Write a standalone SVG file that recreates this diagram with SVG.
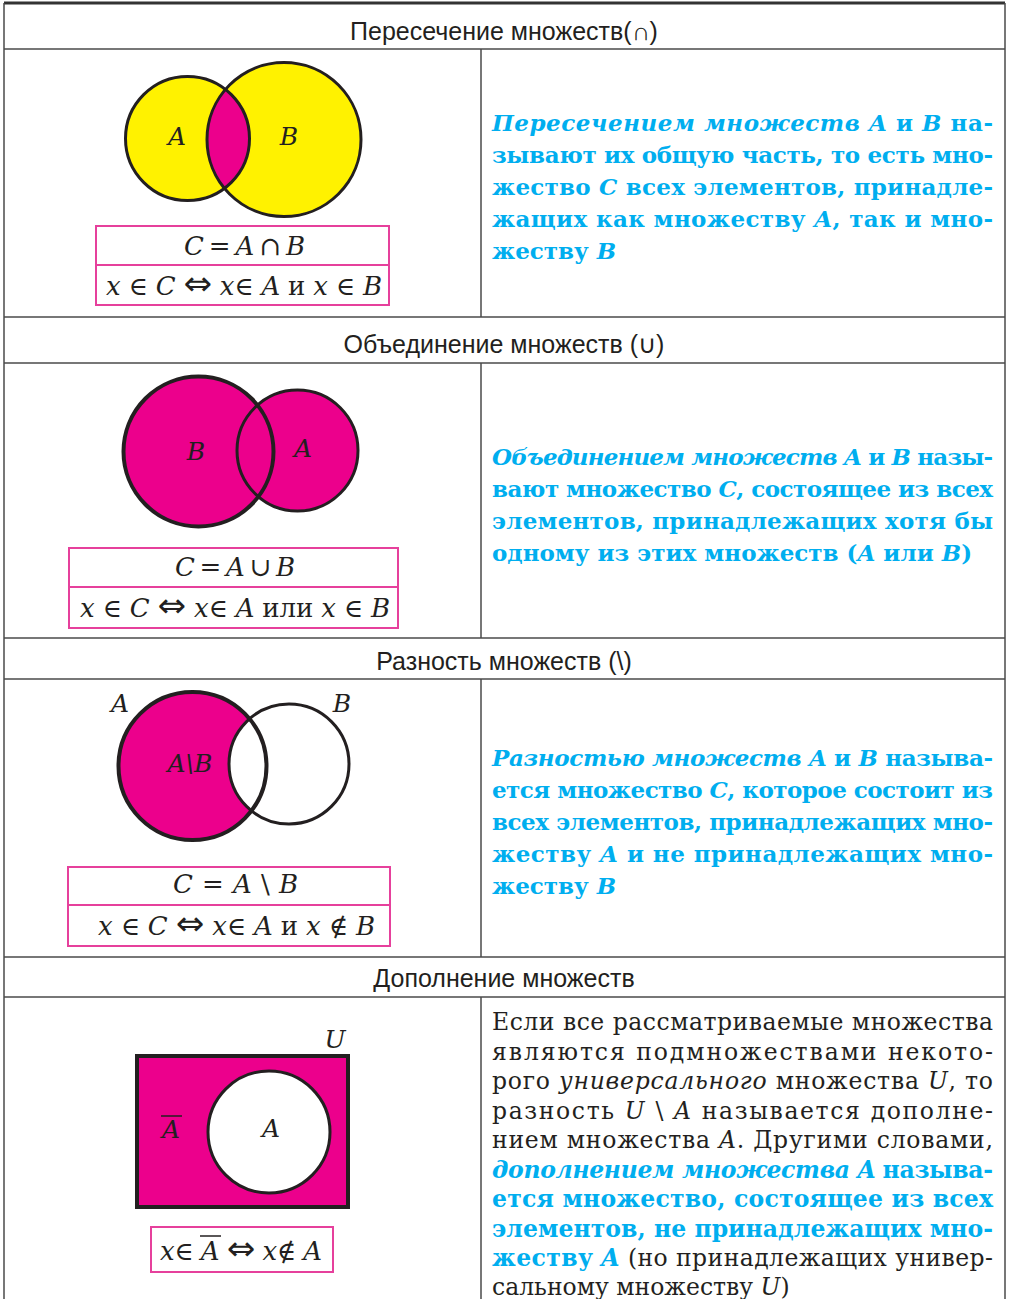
<svg xmlns="http://www.w3.org/2000/svg" width="1010" height="1299" viewBox="0 0 1010 1299">
<style>
.grid{stroke:#4a4a4a;stroke-width:1.5;fill:none}
.hdr{font-family:"Liberation Sans",Arial,sans-serif;font-size:25px;fill:#231f20;text-anchor:middle}
.blue{font-family:"DejaVu Serif","Liberation Serif",serif;font-weight:bold;font-size:23px;fill:#00aeef}
.blk{font-family:"DejaVu Serif","Liberation Serif",serif;font-size:23.5px;fill:#231f20}
.bi{font-style:italic}
.b{font-weight:bold;fill:#00aeef}
.math{font-family:"DejaVu Serif","Liberation Serif",serif;font-size:26px;fill:#231f20}
.arr{font-family:"DejaVu Sans",sans-serif;font-size:34px}
.lbl{font-family:"DejaVu Serif","Liberation Serif",serif;font-size:25px;font-style:italic;fill:#231f20;text-anchor:middle}
.it{font-style:italic}
.box{fill:#fff;stroke:#e6409c;stroke-width:2}
.ol{fill:none;stroke:#231f20;stroke-width:3}
.olt{fill:none;stroke:#231f20;stroke-width:4}
.mag{fill:#ec008c}
.yel{fill:#fff200}
</style>
<defs>
<clipPath id="clipA1"><circle cx="187.5" cy="138.5" r="62"/></clipPath>
</defs>
<rect width="1010" height="1299" fill="#fff"/>

<g id="grid">
<line class="grid" x1="4" y1="3" x2="1005" y2="3" style="stroke-width:3;stroke:#333"/>
<line class="grid" x1="4" y1="49" x2="1005" y2="49"/>
<line class="grid" x1="4" y1="317" x2="1005" y2="317"/>
<line class="grid" x1="4" y1="363" x2="1005" y2="363"/>
<line class="grid" x1="4" y1="638" x2="1005" y2="638"/>
<line class="grid" x1="4" y1="679" x2="1005" y2="679"/>
<line class="grid" x1="4" y1="957" x2="1005" y2="957"/>
<line class="grid" x1="4" y1="997" x2="1005" y2="997"/>
<line class="grid" x1="4" y1="3" x2="4" y2="1299"/>
<line class="grid" x1="1005" y1="3" x2="1005" y2="1299"/>
<line class="grid" x1="481" y1="49" x2="481" y2="317"/>
<line class="grid" x1="481" y1="363" x2="481" y2="638"/>
<line class="grid" x1="481" y1="679" x2="481" y2="957"/>
<line class="grid" x1="481" y1="997" x2="481" y2="1299"/>
</g>

<g id="header-intersection"><text class="hdr" x="504" y="40">Пересечение множеств(∩)</text></g>
<g id="header-union"><text class="hdr" x="504" y="353">Объединение множеств (∪)</text></g>
<g id="header-difference"><text class="hdr" x="504" y="670">Разность множеств (\)</text></g>
<g id="header-complement"><text class="hdr" x="504" y="987">Дополнение множеств</text></g>

<g id="intersection-diagram">
<circle class="yel" cx="187.5" cy="138.5" r="62"/>
<circle class="yel" cx="284" cy="139.5" r="77"/>
<circle class="mag" cx="284" cy="139.5" r="77" clip-path="url(#clipA1)"/>
<circle class="ol" cx="187.5" cy="138.5" r="62"/>
<circle class="ol" cx="284" cy="139.5" r="77"/>
<text class="lbl" x="177" y="145">A</text>
<text class="lbl" x="289" y="145">B</text>
</g>
<g id="intersection-formula">
<rect class="box" x="96" y="226" width="293" height="79"/>
<line x1="96" y1="265" x2="389" y2="265" stroke="#e6409c" stroke-width="2"/>
<text class="math" x="184" y="255" textLength="121"><tspan class="it">C</tspan> = <tspan class="it">A</tspan> ∩ <tspan class="it">B</tspan></text>
<text class="math" x="106" y="295" textLength="276"><tspan class="it">x</tspan> ∈ <tspan class="it">C</tspan> <tspan class="arr">⇔</tspan> <tspan class="it">x</tspan>∈ <tspan class="it">A</tspan> и <tspan class="it">x</tspan> ∈ <tspan class="it">B</tspan></text>
</g>
<g id="intersection-text">
<text class="blue" x="492" y="131" textLength="501"><tspan class="bi">Пересечением множеств A</tspan> и <tspan class="bi">B</tspan> на-</text>
<text class="blue" x="492" y="163" textLength="501">зывают их общую часть, то есть мно-</text>
<text class="blue" x="492" y="195" textLength="501">жество <tspan class="bi">C</tspan> всех элементов, принадле-</text>
<text class="blue" x="492" y="227" textLength="501">жащих как множеству <tspan class="bi">A</tspan>, так и мно-</text>
<text class="blue" x="492" y="259">жеству <tspan class="bi">B</tspan></text>
</g>

<g id="union-diagram">
<circle class="mag" cx="198.5" cy="451.5" r="75"/>
<circle class="mag" cx="297.5" cy="450.5" r="60.5"/>
<circle class="olt" cx="198.5" cy="451.5" r="75"/>
<circle class="ol" cx="297.5" cy="450.5" r="60.5"/>
<text class="lbl" x="196" y="460">B</text>
<text class="lbl" x="303" y="457">A</text>
</g>
<g id="union-formula">
<rect class="box" x="69" y="548" width="329" height="80"/>
<line x1="69" y1="587" x2="398" y2="587" stroke="#e6409c" stroke-width="2"/>
<text class="math" x="175" y="576" textLength="120"><tspan class="it">C</tspan> = <tspan class="it">A</tspan> ∪ <tspan class="it">B</tspan></text>
<text class="math" x="80" y="617" textLength="310"><tspan class="it">x</tspan> ∈ <tspan class="it">C</tspan> <tspan class="arr">⇔</tspan> <tspan class="it">x</tspan>∈ <tspan class="it">A</tspan> или <tspan class="it">x</tspan> ∈ <tspan class="it">B</tspan></text>
</g>
<g id="union-text">
<text class="blue" x="492" y="465" textLength="501"><tspan class="bi">Объединением множеств A</tspan> и <tspan class="bi">B</tspan> назы-</text>
<text class="blue" x="492" y="497" textLength="501">вают множество <tspan class="bi">C</tspan>, состоящее из всех</text>
<text class="blue" x="492" y="529" textLength="501">элементов, принадлежащих хотя бы</text>
<text class="blue" x="492" y="561">одному из этих множеств (<tspan class="bi">A</tspan> или <tspan class="bi">B</tspan>)</text>
</g>

<g id="difference-diagram">
<circle class="mag" cx="192.5" cy="766" r="74"/>
<circle fill="#fff" cx="289" cy="764" r="60"/>
<circle class="olt" cx="192.5" cy="766" r="74"/>
<circle class="ol" cx="289" cy="764" r="60"/>
<text class="lbl" x="120" y="712">A</text>
<text class="lbl" x="342" y="712">B</text>
<text class="lbl" x="190" y="772">A\B</text>
</g>
<g id="difference-formula">
<rect class="box" x="68" y="867" width="322" height="79"/>
<line x1="68" y1="905" x2="390" y2="905" stroke="#e6409c" stroke-width="2"/>
<text class="math" x="173" y="893" textLength="125"><tspan class="it">C</tspan> = <tspan class="it">A</tspan> \ <tspan class="it">B</tspan></text>
<text class="math" x="98" y="935" textLength="277"><tspan class="it">x</tspan> ∈ <tspan class="it">C</tspan> <tspan class="arr">⇔</tspan> <tspan class="it">x</tspan>∈ <tspan class="it">A</tspan> и <tspan class="it">x</tspan> ∉ <tspan class="it">B</tspan></text>
</g>
<g id="difference-text">
<text class="blue" x="492" y="766" textLength="501"><tspan class="bi">Разностью множеств A</tspan> и <tspan class="bi">B</tspan> называ-</text>
<text class="blue" x="492" y="798" textLength="501">ется множество <tspan class="bi">C</tspan>, которое состоит из</text>
<text class="blue" x="492" y="830" textLength="501">всех элементов, принадлежащих мно-</text>
<text class="blue" x="492" y="862" textLength="501">жеству <tspan class="bi">A</tspan> и не принадлежащих мно-</text>
<text class="blue" x="492" y="894">жеству <tspan class="bi">B</tspan></text>
</g>

<g id="complement-diagram">
<rect class="mag" x="137" y="1056" width="211" height="151"/>
<rect class="olt" x="137" y="1056" width="211" height="151"/>
<circle class="ol" cx="269" cy="1132" r="61" style="fill:#fff"/>
<text class="lbl" x="335" y="1048">U</text>
<text class="lbl" x="171" y="1138">A</text>
<line x1="161" y1="1116" x2="182" y2="1116" stroke="#231f20" stroke-width="1.5"/>
<text class="lbl" x="271" y="1137">A</text>
</g>
<g id="complement-formula">
<rect class="box" x="151" y="1227" width="182" height="45"/>
<text class="math" x="160" y="1260" textLength="162"><tspan class="it">x</tspan>∈ <tspan class="it">A</tspan> <tspan class="arr">⇔</tspan> <tspan class="it">x</tspan>∉ <tspan class="it">A</tspan></text>
<line x1="200" y1="1236" x2="221" y2="1236" stroke="#231f20" stroke-width="1.5"/>
</g>
<g id="complement-text">
<text class="blk" x="492" y="1030" textLength="501">Если все рассматриваемые множества</text>
<text class="blk" x="492" y="1059.5" textLength="501">являются подмножествами некото-</text>
<text class="blk" x="492" y="1089" textLength="501">рого <tspan class="it">универсального</tspan> множества <tspan class="it">U</tspan>, то</text>
<text class="blk" x="492" y="1118.5" textLength="501">разность <tspan class="it">U</tspan> \ <tspan class="it">A</tspan> называется дополне-</text>
<text class="blk" x="492" y="1148" textLength="501">нием множества <tspan class="it">A</tspan>. Другими словами,</text>
<text class="blk" x="492" y="1177.5" textLength="501"><tspan class="b it">дополнением множества A</tspan> <tspan class="b">называ-</tspan></text>
<text class="blk" x="492" y="1207" textLength="501"><tspan class="b">ется множество, состоящее из всех</tspan></text>
<text class="blk" x="492" y="1236.5" textLength="501"><tspan class="b">элементов, не принадлежащих мно-</tspan></text>
<text class="blk" x="492" y="1266" textLength="501"><tspan class="b">жеству</tspan> <tspan class="b it">A</tspan> (но принадлежащих универ-</text>
<text class="blk" x="492" y="1295">сальному множеству <tspan class="it">U</tspan>)</text>
</g>
</svg>
